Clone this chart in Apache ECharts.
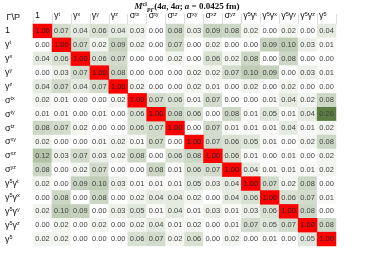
<!DOCTYPE html>
<html><head><meta charset="utf-8">
<script src="https://cdn.jsdelivr.net/npm/echarts@6/dist/echarts.min.js"></script>
<style>html,body{margin:0;padding:0;background:#fff}#c{width:374px;height:255px}</style>
</head><body><div id="c"></div>
<script>
const ops = ['1','γ^t','γ^x','γ^y','γ^z','σ^tx','σ^ty','σ^tz','σ^xy','σ^xz','σ^yz','γ^5γ^t','γ^5γ^x','γ^5γ^y','γ^5γ^z','γ^5'];
const row_1    = [1.00,0.07,0.04,0.06,0.04,0.03,0.00,0.08,0.03,0.09,0.08,0.02,0.00,0.02,0.00,0.04];
const row_gt   = [0.00,1.00,0.07,0.02,0.09,0.02,0.00,0.07,0.00,0.02,0.00,0.00,0.09,0.10,0.03,0.01];
const row_gx   = [0.04,0.06,1.00,0.06,0.07,0.00,0.00,0.02,0.00,0.06,0.02,0.08,0.00,0.08,0.00,0.00];
const row_gy   = [0.00,0.03,0.07,1.00,0.08,0.00,0.00,0.00,0.02,0.02,0.07,0.10,0.09,0.00,0.03,0.01];
const row_gz   = [0.04,0.07,0.04,0.07,1.00,0.02,0.00,0.00,0.02,0.01,0.00,0.02,0.00,0.02,0.00,0.00];
const row_stx  = [0.02,0.01,0.00,0.00,0.02,1.00,0.07,0.06,0.01,0.07,0.00,0.00,0.01,0.04,0.02,0.08];
const row_sty  = [0.01,0.01,0.00,0.01,0.00,0.06,1.00,0.08,0.06,0.00,0.08,0.01,0.05,0.01,0.04,0.26];
const row_stz  = [0.08,0.07,0.02,0.00,0.00,0.06,0.07,1.00,0.00,0.07,0.01,0.01,0.01,0.04,0.01,0.02];
const row_sxy  = [0.02,0.00,0.00,0.01,0.02,0.01,0.07,0.00,1.00,0.07,0.06,0.05,0.01,0.00,0.02,0.08];
const row_sxz  = [0.12,0.03,0.07,0.03,0.02,0.08,0.00,0.06,0.08,1.00,0.06,0.01,0.00,0.01,0.00,0.02];
const row_syz  = [0.08,0.00,0.02,0.07,0.00,0.00,0.08,0.01,0.06,0.07,1.00,0.04,0.01,0.01,0.01,0.02];
const row_g5gt = [0.02,0.00,0.09,0.10,0.03,0.01,0.01,0.01,0.05,0.03,0.04,1.00,0.07,0.02,0.08,0.00];
const row_g5gx = [0.00,0.08,0.00,0.08,0.00,0.02,0.04,0.04,0.02,0.00,0.04,0.06,1.00,0.06,0.07,0.01];
const row_g5gy = [0.02,0.10,0.09,0.00,0.03,0.05,0.01,0.04,0.01,0.03,0.01,0.03,0.06,1.00,0.08,0.00];
const row_g5gz = [0.00,0.02,0.00,0.02,0.00,0.02,0.04,0.01,0.02,0.00,0.01,0.07,0.05,0.07,1.00,0.08];
const row_g5   = [0.02,0.02,0.00,0.00,0.00,0.06,0.07,0.02,0.06,0.00,0.02,0.00,0.01,0.00,0.05,1.00];
const matrix = [row_1,row_gt,row_gx,row_gy,row_gz,row_stx,row_sty,row_stz,row_sxy,row_sxz,row_syz,row_g5gt,row_g5gx,row_g5gy,row_g5gz,row_g5];

function rich(s){
  return s.split(/(\^\w+)/).filter(t=>t.length).map(t=>t[0]==='^' ? '{s|'+t.slice(1)+'}' : '{b|'+t+'}').join('');
}
const labRich = {
  b:{fontSize:9,color:'#111',fontFamily:'Liberation Sans',lineHeight:10,verticalAlign:'middle'},
  s:{fontSize:5.5,color:'#111',fontFamily:'Liberation Sans',lineHeight:5,verticalAlign:'top'}
};
const offDiag=[], diag=[];
matrix.forEach((r,i)=>r.forEach((v,j)=>{ (v>=0.5?diag:offDiag).push([j,i,v]); }));
const cellLabel = {show:true,formatter:p=>p.value[2].toFixed(2),fontSize:7.5,color:'#444',fontFamily:'Liberation Sans'};

const chart = echarts.init(document.getElementById('c'),null,{renderer:'canvas'});
chart.setOption({
  animation:false,
  backgroundColor:'#fff',
  title:{
    left:'center', top:1, padding:0,
    text:'{i|M}{sup|cl}{sub|PΓ}{r|(4}{i|a}{r|, 4}{i|a}{r|; }{i|a}{r| = 0.0425 fm)}',
    textStyle:{rich:{
      i:{fontFamily:'Liberation Serif',fontStyle:'italic',fontSize:9,color:'#111',lineHeight:12,verticalAlign:'middle'},
      r:{fontFamily:'Liberation Serif',fontSize:9,color:'#111',lineHeight:12,verticalAlign:'middle'},
      sup:{fontFamily:'Liberation Serif',fontSize:6,color:'#111',lineHeight:5,verticalAlign:'top'},
      sub:{fontFamily:'Liberation Serif',fontStyle:'italic',fontSize:6,color:'#111',lineHeight:5,verticalAlign:'bottom'}
    }}
  },
  grid:{left:33,right:38,top:24,bottom:9},
  xAxis:[
    {type:'category',data:ops,show:false,position:'bottom'},
    {type:'category',data:ops.concat(['']),boundaryGap:false,position:'top',
     axisLine:{show:true,lineStyle:{color:'#ccc',width:1}},
     axisTick:{show:true,interval:0,length:10,lineStyle:{color:'#ddd'}},
     axisLabel:{interval:0,align:'left',margin:3,padding:[0,0,0,2],formatter:v=>rich(v),rich:labRich},
     splitLine:{show:false}}
  ],
  yAxis:{type:'category',data:ops,inverse:true,
    axisLine:{show:false},axisTick:{show:false},
    axisLabel:{interval:0,align:'left',margin:28,formatter:v=>rich(v),rich:labRich},
    name:'Γ\\P',nameLocation:'start',nameGap:6,
    nameTextStyle:{align:'right',verticalAlign:'middle',padding:[0,13,0,0],fontSize:9,color:'#111',fontFamily:'Liberation Sans'}
  },
  visualMap:{show:false,type:'continuous',min:0,max:0.26,seriesIndex:0,inRange:{color:['#ffffff','#5b7d42']}},
  series:[
    {type:'heatmap',xAxisIndex:0,yAxisIndex:0,data:offDiag,label:cellLabel,itemStyle:{borderWidth:0}},
    {type:'heatmap',xAxisIndex:0,yAxisIndex:0,data:diag,label:Object.assign({},cellLabel,{color:'#222'}),itemStyle:{color:'#ff0000'}}
  ]
});
</script></body></html>
